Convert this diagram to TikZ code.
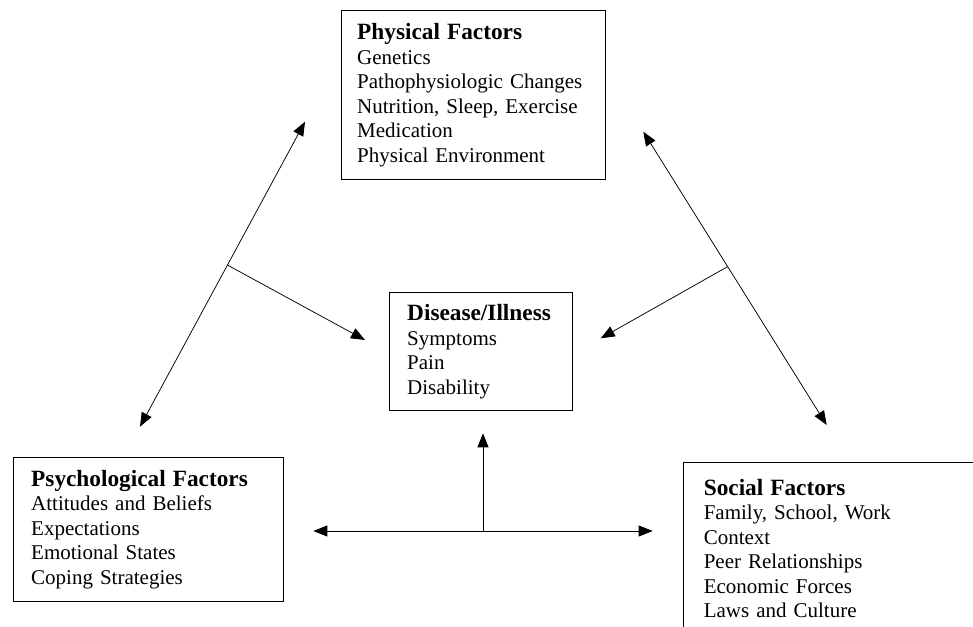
\documentclass[tikz,border=0pt]{standalone}
\usepackage{fontspec}
\setmainfont{Liberation Serif}
\usetikzlibrary{arrows.meta}
\usetikzlibrary{calc}
\tikzstyle{factor} = [draw,line width=1pt,anchor=north west,align=left,inner ysep=0pt,font=\fontsize{21}{24.5}\selectfont]
\tikzstyle{link} = [line width=0.75pt]
\newcommand{\boxtitle}[1]{{\fontsize{23.3}{24.5}\selectfont\bfseries #1}}

\begin{document}
\begin{tikzpicture}[x=1pt,y=-1pt,>={Triangle[length=14pt,width=11pt]}]

    \useasboundingbox (0,0) rectangle (973,626);
    \clip (0,0) rectangle (973,626);

% Draw boxes

    \node[factor,inner xsep=16pt,text width=232pt,minimum height=169pt] at (340.7,10) (phys)
        {\boxtitle{Physical Factors}\\Genetics\\Pathophysiologic Changes\\Nutrition, Sleep, Exercise\\Medication\\Physical Environment};
    \node[factor,inner xsep=17.4pt,text width=148pt,minimum height=117.7pt] at (389.3,292.3) (ill)
        {\boxtitle{Disease/Illness}\\Symptoms\\Pain\\Disability};
    \node[factor,inner xsep=17.4pt,text width=234.6pt,minimum height=143.7pt] at (13.3,457.3) (psy)
        {\boxtitle{Psychological Factors}\\Attitudes and Beliefs\\Expectations\\Emotional States\\Coping Strategies};
    \node[factor,inner xsep=20.6pt,text width=276pt,minimum height=172.6pt] at (682.7,461.7) (soc)
        {\boxtitle{Social Factors}\\Family, School, Work\\Context\\Peer Relationships\\Economic Forces\\Laws and Culture};

% Arrow ends

    \coordinate (physL) at (305,121.7);
    \coordinate (psyT) at (140,426.7);
    \coordinate (physR) at (643.3,131.7);
    \coordinate (socT) at (826.7,425);
    \coordinate (illL) at (365,340);
    \coordinate (illR) at (600.7,338.3);
    \coordinate (psyR) at (313.3,531);
    \coordinate (socL) at (652.7,531);
    \coordinate (illB) at (483.3,433.3);

    \coordinate (jL) at ($(physL)!0.47!(psyT)$);
    \coordinate (jR) at ($(physR)!0.46!(socT)$);
    \coordinate (jB) at ($(psyR)!0.5!(socL)$);

% Draw arrows

    \draw[link,<->] (physL) -- (psyT);
    \draw[link,<->] (physR) -- (socT);
    \draw[link,<->] (psyR) -- (socL);
    \draw[link,->] (jL) -- (illL);
    \draw[link,->] (jR) -- (illR);
    \draw[link,->] (jB) -- (jB |- illB);

\end{tikzpicture}
\end{document}
